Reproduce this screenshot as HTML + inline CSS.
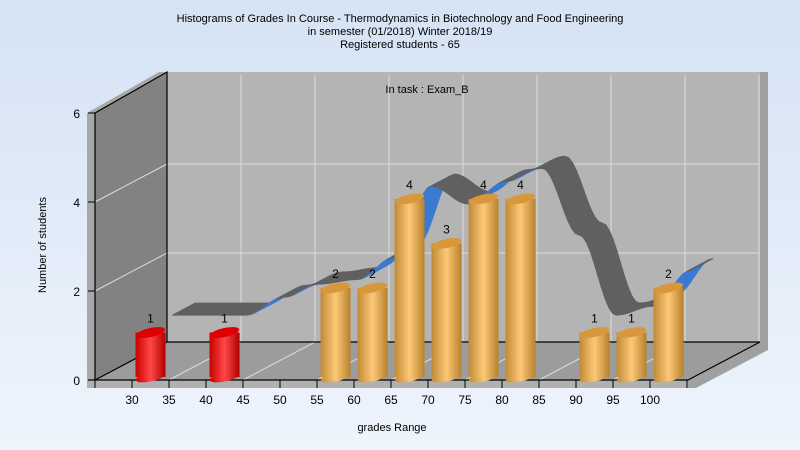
<!DOCTYPE html>
<html><head><meta charset="utf-8"><style>
body{margin:0;width:800px;height:450px;overflow:hidden;font-family:"Liberation Sans",sans-serif}
svg{display:block}
</style></head><body>
<svg width="800" height="450" xmlns="http://www.w3.org/2000/svg">
<defs>
<linearGradient id="bg" x1="0" y1="0" x2="0" y2="1"><stop offset="0" stop-color="#d5e3f4"/><stop offset="1" stop-color="#eef4fc"/></linearGradient>
<linearGradient id="gold" x1="0" y1="0" x2="1" y2="0"><stop offset="0" stop-color="#c08a34"/><stop offset="0.5" stop-color="#fcc878"/><stop offset="1" stop-color="#b8822c"/></linearGradient>
<linearGradient id="red" x1="0" y1="0" x2="1" y2="0"><stop offset="0" stop-color="#c80000"/><stop offset="0.5" stop-color="#ff4848"/><stop offset="1" stop-color="#b00000"/></linearGradient>
</defs>
<rect width="800" height="450" fill="url(#bg)"/>
<g font-size="11" fill="#000" text-anchor="middle">
<text x="400" y="22">Histograms of Grades  In Course - Thermodynamics in Biotechnology and Food Engineering</text>
<text x="400" y="35">in semester  (01/2018) Winter 2018/19</text>
<text x="400" y="48">Registered students - 65</text>
</g>
<g id="walls">
<polygon points="87,113 159,72 167,72 95,113 95,388 87,388" fill="#a8a8a8"/>
<polygon points="760,72 768,72 768,350 696,388 688,388 688,380 760,342" fill="#a0a0a0"/>
<polygon points="87,380 688,380 688,388 87,388" fill="#b0b0b0"/>
<polygon points="95,113 167,72 167,342 95,380" fill="#828282"/>
<polygon points="167,72 760,72 760,342 167,342" fill="#b4b4b4"/>
<polygon points="95,380 167,342 760,342 688,380" fill="#9c9c9c"/>
</g>
<g id="grid" stroke="#dcdcdc" stroke-width="1"></g>
<g id="frame" stroke="#000" stroke-width="1.2" fill="none">
<polyline points="95,113 167,72 167,342 760,342"/>
<line x1="95" y1="113" x2="95" y2="380"/>
<line x1="95" y1="380" x2="167" y2="342"/>
<line x1="88" y1="380" x2="688" y2="380"/>
<line x1="688" y1="380" x2="760" y2="342"/>
</g>
<g id="ribbon"></g>
<g id="bars"></g>
<g id="axes" font-size="12" fill="#000"></g>
<text x="427" y="93" font-size="11" text-anchor="middle">In task : Exam_B</text>
<text x="392" y="431" font-size="11" text-anchor="middle">grades Range</text>
<text x="0" y="0" font-size="11" text-anchor="middle" transform="translate(46,245) rotate(-90)">Number of students</text>
</svg>
<script>
const categories=["<30","30","35","40","45","50","55","60","65","70","75","80","85","90","95","100"];
const counts=[0,1,0,1,0,0,2,2,4,3,4,4,0,1,1,2];
const ribbonValues=[1.2,1.2,1.2,1.2,1.6,1.9,2.0,2.5,4.1,3.7,4.2,4.5,3.0,1.2,1.4,2.2];
const yTicks=[0,2,4,6];
const tickLabels=["30","35","40","45","50","55","60","65","70","75","80","85","90","95","100"];
const NS="http://www.w3.org/2000/svg";
const X0=95,CW=37,Y0=380,PU=44.5,DX=72,DY=-38;
function xs(i,d){return X0+CW*(i+0.5)+DX*d;}
function ys(v,d){return Y0-v*PU+DY*d;}
function mk(tag,attrs,parent){const e=document.createElementNS(NS,tag);for(const k in attrs)e.setAttribute(k,attrs[k]);parent.appendChild(e);return e;}
const grid=document.getElementById('grid');
yTicks.forEach(v=>{if(v===0||v===6)return;
 const l1=mk('line',{x1:X0,y1:ys(v,0),x2:X0+DX,y2:ys(v,1)},grid);
 
 
 const l2=mk('line',{x1:X0+DX,y1:ys(v,1),x2:X0+DX+CW*16,y2:ys(v,1)},grid);
 
 
});
for(let k=2;k<=16;k+=2){const x=X0+CW*k;
 const l=mk('line',{x1:x+DX,y1:ys(6,1),x2:x+DX,y2:ys(0,1)},grid);
 
 
 if(k<16){const f=mk('line',{x1:x,y1:Y0,x2:x+DX,y2:ys(0,1)},grid);
 
 }
}
const rib=document.getElementById('ribbon');
const d1=0.3,d2=0.62,start=1;
for(let i=start;i<ribbonValues.length-1;i++){
 const steps=10;
 for(let s=0;s<steps;s++){
  const t0=s/steps,t1=(s+1)/steps;
  const f=t=>{const a=ribbonValues[i],b=ribbonValues[i+1];const tt=(1-Math.cos(Math.PI*t))/2;return a+(b-a)*tt;};
  const v0=f(t0),v1=f(t1);
  const xa=i+t0,xb=i+t1;
  const p=[[xs(xa,d1),ys(v0,d1)],[xs(xb,d1),ys(v1,d1)],[xs(xb,d2),ys(v1,d2)],[xs(xa,d2),ys(v0,d2)]];
  const slope=(ys(v1,d1)-ys(v0,d1))/(xs(xb,d1)-xs(xa,d1));
  const col=slope<-0.5?"#3a7ad0":"#606060";
  const pg=mk('polygon',{points:p.map(q=>q.join(',')).join(' '),fill:col,stroke:col,'stroke-width':0.8},rib);
  
  
 }
}
const bars=document.getElementById('bars');
counts.forEach((c,i)=>{if(!c)return;
 const cx=xs(i,0),w=15,bot=ys(0,0)-3,top=ys(c,0)-3;
 const fill=c===1&&i<5?"url(#red)":"url(#gold)";
 const topc=fill==="url(#red)"?"#e00000":"#d8983a";
 const g=mk('g',{},bars);
 
 
 mk('ellipse',{cx:cx,cy:bot,rx:w,ry:4.5,transform:`rotate(-12 ${cx} ${bot})`,fill:fill},g);
 mk('rect',{x:cx-w,y:top,width:2*w,height:bot-top,fill:fill},g);
 mk('ellipse',{cx:cx,cy:top,rx:w,ry:4.5,transform:`rotate(-12 ${cx} ${top})`,fill:topc},g);
 const t=mk('text',{x:cx,y:top-10,'font-size':12,'text-anchor':'middle'},g);
 t.textContent=c;
 
 
});
const ax=document.getElementById('axes');
yTicks.forEach(v=>{const y=ys(v,0);
 mk('line',{x1:88,y1:y,x2:95,y2:y,stroke:'#000'},ax);
 const t=mk('text',{x:80,y:y+5,'text-anchor':'end'},ax);t.textContent=v;
 
 
});
for(let k=0;k<=16;k++){const x=X0+CW*k;mk('line',{x1:x,y1:380,x2:x,y2:388,stroke:'#000'},ax);}
tickLabels.forEach((s,k)=>{const x=X0+CW*(k+1);
 const t=mk('text',{x:x,y:404,'text-anchor':'middle'},ax);t.textContent=s;
 
 
});
</script>
</body></html>
